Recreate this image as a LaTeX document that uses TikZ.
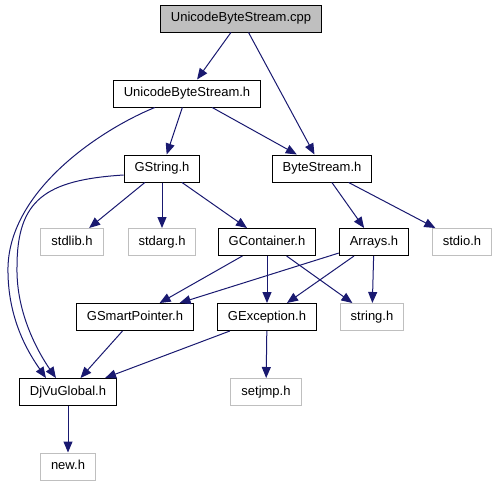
\documentclass[tikz,border=0pt]{standalone}
\usepackage{fontspec}
\setmainfont{Liberation Sans}
\usetikzlibrary{arrows.meta}
\definecolor{edgeblue}{HTML}{191970}
\definecolor{sysgrey}{HTML}{BFBFBF}
\tikzset{
  file/.style={draw=black, line width=1pt, inner xsep=10.5pt, minimum height=27pt,
    text height=9.5pt, text depth=2.7pt, font=\fontsize{13}{15}\selectfont},
  sysfile/.style={file, draw=sysgrey},
  dep/.style={->, edgeblue, line width=1pt}
}
\begin{document}
\begin{tikzpicture}[>={Triangle[length=11pt,width=9pt]}, x=1pt, y=-1pt]
\useasboundingbox (0,0) rectangle (496,485);
\node[file, fill=sysgrey] (cpp) at (241,18.5) {UnicodeByteStream.cpp};
\node[file] (ubs) at (187,93.5) {UnicodeByteStream.h};
\node[file] (gstr) at (162,168.5) {GString.h};
\node[file] (bstr) at (322,168.5) {ByteStream.h};
\node[sysfile] (stdlib) at (72,242) {stdlib.h};
\node[sysfile] (stdarg) at (162,242) {stdarg.h};
\node[file] (gcont) at (267,242) {GContainer.h};
\node[file] (arr) at (374,242) {Arrays.h};
\node[sysfile] (stdio) at (462,242) {stdio.h};
\node[file] (gsp) at (135,317) {GSmartPointer.h};
\node[file] (gexc) at (267,317) {GException.h};
\node[sysfile] (strh) at (372,317) {string.h};
\node[file] (djvu) at (68,392) {DjVuGlobal.h};
\node[sysfile] (setjmp) at (266,392) {setjmp.h};
\node[sysfile] (newh) at (68,466.5) {new.h};
\coordinate (outer) at (8,267);
\coordinate (inner) at (17,267);
\draw[dep] (cpp) -- (ubs);
\draw[dep] (cpp) -- (bstr);
\draw[dep] (ubs) -- (gstr);
\draw[dep] (ubs) -- (bstr);
\draw[dep] (ubs.south west) ++(42,0) .. controls (100,130) and (10,190) .. (outer)
  .. controls (7,320) and (30,355) .. ([xshift=27pt]djvu.north west);
\draw[dep] (gstr.west) ++(0,6.5) .. controls (45,180) and (17,200) .. (inner)
  .. controls (16,315) and (40,355) .. ([xshift=37pt]djvu.north west);
\draw[dep] (gstr) -- (stdlib);
\draw[dep] (gstr) -- (stdarg);
\draw[dep] (gstr) -- (gcont);
\draw[dep] (bstr) -- (arr);
\draw[dep] (bstr) -- (stdio);
\draw[dep] (gcont) -- (gsp);
\draw[dep] (gcont) -- (gexc);
\draw[dep] (gcont) -- (strh);
\draw[dep] (arr) -- (gsp);
\draw[dep] (arr) -- (gexc);
\draw[dep] (arr) -- (strh);
\draw[dep] (gsp) -- (djvu);
\draw[dep] (gexc) -- (djvu);
\draw[dep] (gexc) -- (setjmp);
\draw[dep] (djvu) -- (newh);
\end{tikzpicture}
\end{document}
